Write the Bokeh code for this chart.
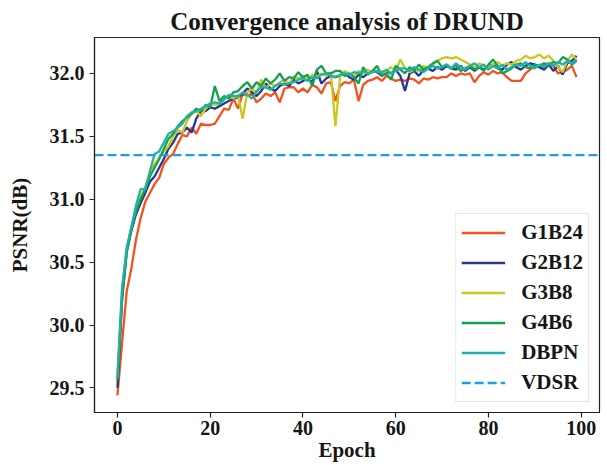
from bokeh.plotting import figure
from bokeh.models import Range1d, FixedTicker, NumeralTickFormatter
from bokeh.embed import file_html
from bokeh.resources import INLINE

epochs = list(range(100))

g1b24 = [29.44, 29.86, 30.27, 30.45, 30.68, 30.85, 30.98, 31.05, 31.12, 31.17,
         31.28, 31.33, 31.36, 31.44, 31.51, 31.50, 31.57, 31.52, 31.60, 31.59,
         31.59, 31.60, 31.66, 31.72, 31.71, 31.80, 31.72, 31.84, 31.82, 31.84,
         31.77, 31.80, 31.84, 31.82, 31.85, 31.77, 31.88, 31.89, 31.89, 31.85,
         31.88, 31.85, 31.91, 31.89, 31.84, 31.92, 31.93, 31.78, 31.90, 31.93,
         31.92, 31.95, 31.78, 31.91, 31.94, 31.95, 31.97, 31.94, 31.98, 31.96,
         31.94, 31.95, 31.94, 31.96, 31.95, 31.92, 31.96, 31.95, 31.97, 31.96,
         31.97, 31.97, 32.00, 31.98, 32.00, 31.99, 32.00, 31.93, 31.98, 32.01,
         31.99, 32.02, 32.00, 32.01, 31.97, 31.94, 31.94, 31.94, 32.00, 32.03,
         32.06, 32.05, 32.07, 32.08, 32.06, 32.00, 32.01, 32.03, 32.06, 31.97]

g2b12 = [29.50, 30.20, 30.58, 30.75, 30.88, 30.97, 31.05, 31.14, 31.18, 31.25,
         31.32, 31.40, 31.45, 31.52, 31.53, 31.57, 31.53, 31.64, 31.70, 31.70,
         31.73, 31.72, 31.74, 31.76, 31.78, 31.80, 31.81, 31.84, 31.88, 31.85,
         31.82, 31.86, 31.92, 31.88, 31.86, 31.90, 31.92, 31.90, 31.95, 31.92,
         31.94, 31.96, 31.93, 32.02, 31.92, 31.96, 31.98, 31.97, 31.98, 32.00,
         31.97, 31.95, 31.99, 31.97, 32.00, 32.02, 32.01, 31.98, 32.02, 32.00,
         32.03, 31.98, 31.86, 32.00, 32.02, 31.98, 32.03, 32.04, 32.02, 32.05,
         32.03, 32.06, 32.04, 32.03, 32.06, 32.02, 32.05, 32.02, 32.05, 32.03,
         32.06, 32.07, 32.04, 32.03, 32.07, 32.09, 32.05, 32.03, 32.06, 32.08,
         32.07, 32.05, 32.03, 32.07, 32.02, 32.06, 31.99, 32.08, 32.10, 32.14]

g3b8 = [29.62, 30.28, 30.60, 30.78, 30.92, 31.02, 31.10, 31.22, 31.28, 31.33,
        31.38, 31.42, 31.50, 31.55, 31.53, 31.62, 31.68, 31.70, 31.66, 31.72,
        31.76, 31.75, 31.76, 31.80, 31.82, 31.80, 31.83, 31.64, 31.85, 31.88,
        31.84, 31.95, 31.88, 31.92, 31.90, 31.93, 31.95, 31.92, 31.97, 31.96,
        31.98, 31.95, 31.99, 31.97, 32.00, 31.98, 32.01, 31.58, 31.97, 32.02,
        32.00, 31.98, 32.02, 32.00, 32.03, 32.01, 32.02, 32.00, 32.02, 32.05,
        32.02, 32.11, 32.04, 32.01, 32.03, 32.02, 32.06, 32.04, 32.07, 32.10,
        32.12, 32.13, 32.12, 32.13, 32.11, 32.09, 32.07, 32.05, 32.08, 32.06,
        32.05, 32.07, 32.09, 32.06, 32.08, 32.07, 32.10, 32.11, 32.14, 32.12,
        32.13, 32.15, 32.12, 32.14, 32.10, 32.05, 32.01, 32.10, 32.15, 32.11]

g4b6 = [29.56, 30.22, 30.58, 30.77, 30.90, 31.00, 31.08, 31.18, 31.25, 31.32,
        31.40, 31.48, 31.52, 31.58, 31.62, 31.65, 31.68, 31.72, 31.70, 31.75,
        31.73, 31.90, 31.78, 31.82, 31.80, 31.85, 31.86, 31.90, 31.93, 31.88,
        31.93, 31.90, 31.96, 31.92, 31.95, 32.00, 31.94, 31.97, 31.96, 32.01,
        31.97, 31.99, 31.90, 32.03, 32.06, 32.00, 32.00, 32.02, 32.02, 31.98,
        32.00, 31.97, 31.92, 32.05, 31.99, 32.02, 32.06, 31.98, 32.00, 31.95,
        32.06, 32.03, 32.00, 32.05, 32.02, 32.07, 32.03, 32.05, 32.08, 32.10,
        32.05, 32.07, 32.04, 32.06, 32.02, 32.04, 32.06, 32.03, 32.05, 32.02,
        32.07, 32.11, 32.06, 32.00, 32.02, 32.04, 32.07, 32.08, 32.05, 32.04,
        32.07, 32.06, 32.08, 32.07, 32.09, 32.08, 32.13, 32.11, 32.07, 32.10]

dbpn = [29.58, 30.30, 30.62, 30.78, 30.95, 31.08, 31.08, 31.22, 31.36, 31.38,
        31.45, 31.52, 31.54, 31.57, 31.60, 31.66, 31.69, 31.70, 31.72, 31.74,
        31.76, 31.77, 31.76, 31.79, 31.83, 31.82, 31.82, 31.85, 31.83, 31.80,
        31.86, 31.89, 31.89, 31.87, 31.90, 31.92, 31.91, 31.92, 31.93, 31.95,
        31.96, 31.94, 31.97, 31.96, 31.99, 32.00, 31.98, 31.97, 31.99, 32.00,
        31.99, 32.01, 32.00, 32.02, 32.00, 32.01, 32.02, 32.01, 32.03, 32.00,
        32.02, 32.04, 32.04, 32.02, 32.05, 32.03, 32.01, 32.04, 32.06, 32.04,
        32.05, 32.07, 32.04, 32.08, 32.05, 32.03, 32.06, 32.08, 32.05, 32.07,
        32.03, 32.06, 32.04, 32.07, 32.03, 32.05, 32.07, 32.06, 32.09, 32.06,
        32.04, 32.07, 32.05, 32.08, 32.06, 32.09, 32.07, 32.10, 32.08, 32.11]

vdsr = 31.35

series_names = ["G1B24", "G2B12", "G3B8", "G4B6", "DBPN"]
series_values = [g1b24, g2b12, g3b8, g4b6, dbpn]
series_colors = ["#f4511e", "#2a3592", "#cdc61c", "#13a14d", "#1db3aa"]
vdsr_color = "#1e9fd6"

x_ticks = [0, 20, 40, 60, 80, 100]
y_ticks = [29.5, 30.0, 30.5, 31.0, 31.5, 32.0]

FONT = "Liberation Serif"
TXT = "#161616"

xr = Range1d(-4.95, 103.95)
yr = Range1d(29.3045, 32.2855)

p = figure(width=606, height=465,
           min_border_left=94, min_border_right=7, min_border_top=37, min_border_bottom=53,
           x_range=xr, y_range=yr,
           output_backend="svg", toolbar_location=None)

p.title.text = "Convergence analysis of DRUND"
p.title.align = "center"
p.title.text_font = FONT
p.title.text_font_style = "bold"
p.title.text_font_size = "25px"
p.title.text_color = TXT
p.title.standoff = 5

for name, vals, col in zip(series_names, series_values, series_colors):
    p.line(epochs, vals, line_color=col, line_width=2.3, legend_label=name)

p.line(x=[xr.start, xr.end], y=[vdsr, vdsr], line_color=vdsr_color,
       line_width=2.3, line_dash="9 4", legend_label="VDSR")

p.grid.visible = False
p.outline_line_color = "#222222"
p.outline_line_width = 1.2

p.xaxis.ticker = FixedTicker(ticks=x_ticks)
p.yaxis.ticker = FixedTicker(ticks=y_ticks)
p.yaxis.formatter = NumeralTickFormatter(format="0.0")
p.xaxis.axis_label = "Epoch"
p.yaxis.axis_label = "PSNR(dB)"
p.xaxis.axis_label_standoff = 0
p.yaxis.axis_label_standoff = 15
for ax in (p.xaxis, p.yaxis):
    ax.axis_line_color = "#222222"
    ax.axis_line_width = 1.2
    ax.major_tick_line_color = "#222222"
    ax.major_tick_line_width = 1.2
    ax.major_tick_out = 5
    ax.major_tick_in = 0
    ax.minor_tick_out = 0
    ax.minor_tick_in = 0
    ax.major_label_text_font = FONT
    ax.major_label_text_font_style = "bold"
    ax.major_label_text_font_size = "20px"
    ax.major_label_text_color = TXT
    ax.axis_label_text_font = FONT
    ax.axis_label_text_font_style = "bold"
    ax.axis_label_text_font_size = "21px"
    ax.axis_label_text_color = TXT
p.xaxis.major_label_standoff = 3
p.yaxis.major_label_standoff = 5

lg = p.legend[0]
lg.location = "bottom_right"
lg.margin = 10
lg.padding = 5
lg.spacing = 3
lg.label_height = 27
lg.glyph_height = 27
lg.glyph_width = 44
lg.label_standoff = 16
lg.label_text_font = FONT
lg.label_text_font_style = "bold"
lg.label_text_font_size = "21px"
lg.label_text_color = TXT
lg.border_line_color = "#d0d0d0"
lg.border_line_width = 1
lg.background_fill_color = "white"
lg.background_fill_alpha = 0.85

open("out.html", "w").write(file_html(p, INLINE))
